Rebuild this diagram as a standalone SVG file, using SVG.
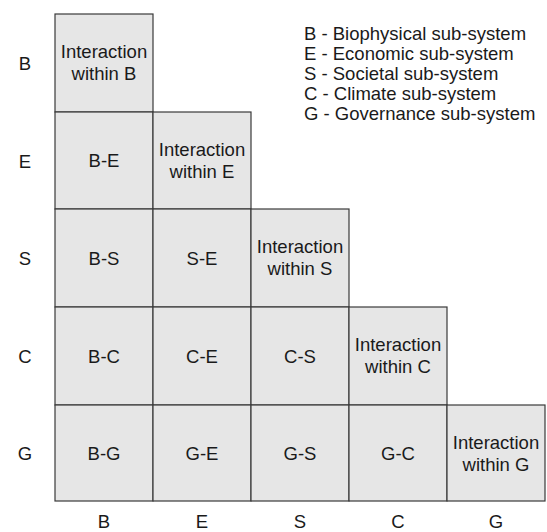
<svg xmlns="http://www.w3.org/2000/svg" width="547" height="532" viewBox="0 0 547 532">
<style>
.c{fill:#e6e6e6;stroke:#3a3a3a;stroke-width:1.2}
text{font-family:"Liberation Sans",Arial,sans-serif;font-size:18.5px;fill:#1a1a1a}
.m{text-anchor:middle}
</style>
<rect width="547" height="532" fill="#fff"/>
<g id="legend">
<text x="304" y="40">B - Biophysical sub-system</text>
<text x="304" y="60">E - Economic sub-system</text>
<text x="304" y="80">S - Societal sub-system</text>
<text x="304" y="100">C - Climate sub-system</text>
<text x="304" y="120">G - Governance sub-system</text>
</g>
<g id="row-labels">
<text class="m" x="25" y="70">B</text>
<text class="m" x="25" y="168">E</text>
<text class="m" x="25" y="265">S</text>
<text class="m" x="25" y="363">C</text>
<text class="m" x="25" y="460">G</text>
</g>
<g id="col-labels">
<text class="m" x="104" y="528">B</text>
<text class="m" x="202" y="528">E</text>
<text class="m" x="300" y="528">S</text>
<text class="m" x="398" y="528">C</text>
<text class="m" x="496" y="528">G</text>
</g>
<g id="BB"><rect class="c" x="55" y="14" width="98" height="98"/><text class="m" x="104" y="58">Interaction</text><text class="m" x="104" y="80">within B</text></g>
<g id="BE"><rect class="c" x="55" y="112" width="98" height="97"/><text class="m" x="104" y="167">B-E</text></g>
<g id="EE"><rect class="c" x="153" y="112" width="98" height="97"/><text class="m" x="202" y="156">Interaction</text><text class="m" x="202" y="178">within E</text></g>
<g id="BS"><rect class="c" x="55" y="209" width="98" height="98"/><text class="m" x="104" y="265">B-S</text></g>
<g id="SE"><rect class="c" x="153" y="209" width="98" height="98"/><text class="m" x="202" y="265">S-E</text></g>
<g id="SS"><rect class="c" x="251" y="209" width="98" height="98"/><text class="m" x="300" y="253">Interaction</text><text class="m" x="300" y="275">within S</text></g>
<g id="BC"><rect class="c" x="55" y="307" width="98" height="98"/><text class="m" x="104" y="363">B-C</text></g>
<g id="CE"><rect class="c" x="153" y="307" width="98" height="98"/><text class="m" x="202" y="363">C-E</text></g>
<g id="CS"><rect class="c" x="251" y="307" width="98" height="98"/><text class="m" x="300" y="363">C-S</text></g>
<g id="CC"><rect class="c" x="349" y="307" width="98" height="98"/><text class="m" x="398" y="351">Interaction</text><text class="m" x="398" y="373">within C</text></g>
<g id="BG"><rect class="c" x="55" y="405" width="98" height="96"/><text class="m" x="104" y="460">B-G</text></g>
<g id="GE"><rect class="c" x="153" y="405" width="98" height="96"/><text class="m" x="202" y="460">G-E</text></g>
<g id="GS"><rect class="c" x="251" y="405" width="98" height="96"/><text class="m" x="300" y="460">G-S</text></g>
<g id="GC"><rect class="c" x="349" y="405" width="98" height="96"/><text class="m" x="398" y="460">G-C</text></g>
<g id="GG"><rect class="c" x="447" y="405" width="98" height="96"/><text class="m" x="496" y="449">Interaction</text><text class="m" x="496" y="471">within G</text></g>
<g id="connectors"></g>
</svg>
